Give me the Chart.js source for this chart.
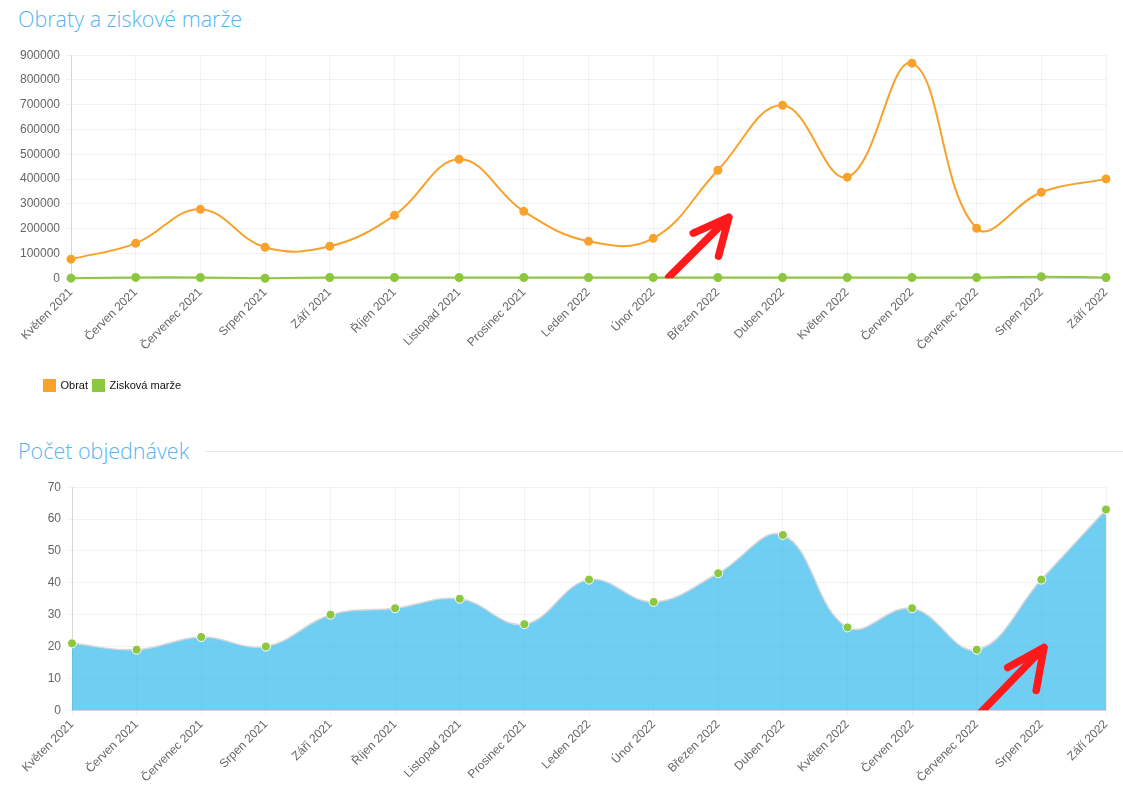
<!DOCTYPE html>
<html>
<head>
<meta charset="utf-8">
<script src="https://cdn.jsdelivr.net/npm/chart.js@4.4.0/dist/chart.umd.min.js"></script>
<style>
  body { margin: 0; background: #fff; font-family: "Open Sans", sans-serif; }
  h2 { position: absolute; left: 18px; margin: 0; font-weight: 300; font-size: 21.5px; color: #55b4f2; }
  .rule { position: absolute; left: 205px; right: 0; height: 1px; background: #e6e6e6; }
  .box { position: absolute; left: 15px; width: 1108px; }
</style>
</head>
<body>
<h2 style="top:4px">Obraty a ziskové marže</h2>
<div class="box" style="top:42px;height:359px"><canvas id="canvas1"></canvas></div>
<h2 style="top:436px">Počet objednávek</h2>
<div class="rule" style="top:451px"></div>
<div class="box" style="top:474px;height:313px"><canvas id="canvas2"></canvas></div>
<script>
var months = [
  "Květen 2021", "Červen 2021", "Červenec 2021", "Srpen 2021", "Září 2021",
  "Říjen 2021", "Listopad 2021", "Prosinec 2021", "Leden 2022", "Únor 2022",
  "Březen 2022", "Duben 2022", "Květen 2022", "Červen 2022", "Červenec 2022",
  "Srpen 2022", "Září 2022"
];
var obrat = [77000, 141000, 278000, 125000, 129000, 254000, 480000, 270000, 149000,
  161000, 436000, 698000, 408000, 868000, 202000, 347000, 401000];
var marze = [500, 3500, 3000, 300, 3000, 3000, 3000, 3000, 3000, 3000, 3000, 3000,
  3000, 3000, 3000, 6500, 3000];
var objednavky = [21, 19, 23, 20, 30, 32, 35, 27, 41, 34, 43, 55, 26, 32, 19, 41, 63];

// arrow annotations in data units: [index, value] for tail, tip, left barb, right barb
var arrow1 = [[9.24, 4000], [10.17, 246000], [9.62, 182000], [10.01, 89000]];
var arrow2 = [[14.0, -2], [15.04, 19.7], [14.48, 13.4], [14.92, 6.25]];

Chart.defaults.font.family = "'Liberation Sans', Arial, sans-serif";
Chart.defaults.font.size = 12;
Chart.defaults.color = "#666";

function arrowPlugin(pts) {
  return {
    id: 'arrow',
    afterDatasetsDraw: function(chart) {
      var x = chart.scales.x, y = chart.scales.y, c = chart.ctx, a = chart.chartArea;
      var p = pts.map(function(q) { return [x.getPixelForValue(q[0]), y.getPixelForValue(q[1])]; });
      c.save();
      c.beginPath();
      c.rect(a.left, a.top, a.right - a.left, a.bottom - a.top);
      c.clip();
      c.strokeStyle = "#fe1a1a";
      c.lineWidth = 7.5;
      c.lineCap = "round";
      c.lineJoin = "round";
      c.beginPath();
      c.moveTo(p[0][0], p[0][1]);
      c.lineTo(p[1][0], p[1][1]);
      c.moveTo(p[2][0], p[2][1]);
      c.lineTo(p[1][0], p[1][1]);
      c.lineTo(p[3][0], p[3][1]);
      c.stroke();
      c.restore();
    }
  };
}

var legendShift = {
  id: 'legendShift',
  afterLayout: function(chart) { chart.legend.left += 24; }
};

function axes(step, yWidth, extra) {
  return {
    x: {
      grid: { color: "rgba(0,0,0,0.05)", tickLength: 5 },
      border: { color: "rgba(0,0,0,0.12)" },
      ticks: { minRotation: 45, maxRotation: 45, autoSkip: false, padding: 2 },
      afterFit: function(s) { s.height += extra; }
    },
    y: {
      beginAtZero: true,
      grid: { color: "rgba(0,0,0,0.05)", tickLength: 5 },
      border: { color: "rgba(0,0,0,0.12)" },
      ticks: { stepSize: step, padding: 6, callback: function(v) { return String(v); } },
      afterFit: function(s) { s.width = yWidth; }
    }
  };
}

window.onload = function() {
  var ctx = document.getElementById("canvas1").getContext("2d");
  new Chart(ctx, {
    type: 'line',
    data: {
      labels: months,
      datasets: [{
        label: "Obrat",
        data: obrat,
        borderColor: "#f8a22c",
        backgroundColor: "#f8a22c",
        pointBackgroundColor: "#f8a22c",
        pointBorderColor: "#f8a22c",
        borderWidth: 2,
        pointRadius: 3.5,
        tension: 0.4,
        fill: false
      }, {
        label: "Zisková marže",
        data: marze,
        borderColor: "#8dc63f",
        backgroundColor: "#8dc63f",
        pointBackgroundColor: "#8dc63f",
        pointBorderColor: "#8dc63f",
        borderWidth: 2,
        pointRadius: 3.5,
        tension: 0.4,
        fill: false
      }]
    },
    options: {
      responsive: true,
      maintainAspectRatio: false,
      animation: false,
      layout: { padding: { top: 6, right: 17 } },
      scales: axes(100000, 56, 20),
      plugins: {
        tooltip: { enabled: false },
        legend: {
          position: 'bottom',
          align: 'start',
          labels: {
            boxWidth: 11, boxHeight: 11, padding: 5, color: "#111",
            font: { size: 11 }
          }
        }
      }
    },
    plugins: [arrowPlugin(arrow1), legendShift]
  });

  var ctx2 = document.getElementById("canvas2").getContext("2d");
  new Chart(ctx2, {
    type: 'line',
    data: {
      labels: months,
      datasets: [{
        label: "Počet objednávek",
        data: objednavky,
        borderColor: "rgba(215,215,215,1)",
        backgroundColor: "rgba(44,183,236,0.68)",
        pointBackgroundColor: "#8dc63f",
        pointBorderColor: "#fff",
        pointBorderWidth: 1,
        borderWidth: 1.5,
        pointRadius: 4.5,
        tension: 0.4,
        fill: 'origin'
      }]
    },
    options: {
      responsive: true,
      maintainAspectRatio: false,
      animation: false,
      layout: { padding: { top: 6, right: 17 } },
      scales: axes(10, 57, 0),
      plugins: {
        tooltip: { enabled: false },
        legend: { display: false }
      }
    },
    plugins: [arrowPlugin(arrow2)]
  });
};
</script>
</body>
</html>
